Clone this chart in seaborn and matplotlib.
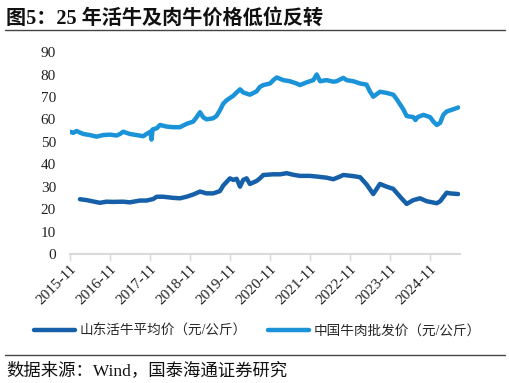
import numpy as np
import pandas as pd
import matplotlib
matplotlib.use("Agg")
import matplotlib.pyplot as plt
import matplotlib.dates as mdates
import seaborn as sns

# 中国牛肉批发价（元/公斤）
beef_dates = ["2015-11-01", "2015-12-01", "2016-01-01", "2016-03-01", "2016-05-01", "2016-07-01",
              "2016-09-01", "2016-11-01", "2017-01-01", "2017-02-01", "2017-03-01", "2017-05-01",
              "2017-07-01", "2017-09-01", "2017-10-01", "2017-11-05", "2017-11-15", "2017-11-25",
              "2018-01-01", "2018-02-01", "2018-04-01", "2018-06-01", "2018-08-01", "2018-10-01",
              "2018-12-01", "2019-01-01", "2019-02-01", "2019-03-01", "2019-04-01", "2019-06-01",
              "2019-07-01", "2019-08-01", "2019-09-01", "2019-10-01", "2019-12-01", "2020-01-01",
              "2020-02-01", "2020-03-01", "2020-05-01", "2020-07-01", "2020-08-01", "2020-09-01",
              "2020-11-01", "2020-12-01", "2021-01-01", "2021-03-01", "2021-05-01", "2021-07-01",
              "2021-08-01", "2021-10-01", "2021-12-01", "2022-01-01", "2022-02-01", "2022-04-01",
              "2022-06-01", "2022-07-01", "2022-09-01", "2022-10-01", "2022-12-01", "2023-02-01",
              "2023-04-01", "2023-05-01", "2023-06-01", "2023-08-01", "2023-10-01", "2023-12-01",
              "2024-01-01", "2024-03-01", "2024-04-01", "2024-06-01", "2024-06-20", "2024-07-10",
              "2024-09-01", "2024-11-01", "2024-12-01", "2025-01-01", "2025-02-01", "2025-03-01",
              "2025-04-01", "2025-05-01", "2025-06-01", "2025-07-15"]
beef_values = [54.5, 54.0, 54.8, 53.5, 53.0, 52.3,
               53.0, 53.2, 52.8, 53.5, 54.5, 53.5,
               53.0, 52.5, 53.5, 54.5, 51.0, 55.5,
               56.0, 57.5, 56.8, 56.5, 56.5, 58.0,
               59.0, 61.0, 63.2, 61.0, 60.0, 60.5,
               61.5, 64.0, 67.0, 68.5, 70.5, 72.0,
               73.4, 72.0, 71.0, 72.5, 74.5, 75.3,
               76.0, 77.5, 78.7, 77.5, 77.0, 76.0,
               75.3, 76.5, 77.5, 80.0, 77.0, 77.5,
               76.8, 77.0, 78.5, 77.5, 77.0, 76.0,
               75.5, 72.5, 70.1, 72.3, 71.8, 71.0,
               69.0, 64.5, 61.5, 61.0, 59.7, 61.0,
               62.0, 61.0, 59.0, 57.5, 58.5, 62.0,
               63.5, 64.0, 64.5, 65.3]

# 山东活牛平均价（元/公斤）
cattle_dates = ["2016-02-01", "2016-04-01", "2016-06-01", "2016-08-01", "2016-10-01", "2016-12-01",
                "2017-03-01", "2017-05-01", "2017-08-01", "2017-10-01", "2017-12-01", "2018-01-01",
                "2018-03-01", "2018-06-01", "2018-08-01", "2018-10-01", "2018-12-01", "2019-02-01",
                "2019-04-01", "2019-06-01", "2019-08-01", "2019-09-01", "2019-11-01", "2019-12-01",
                "2020-01-01", "2020-02-01", "2020-03-01", "2020-04-01", "2020-05-01", "2020-07-01",
                "2020-08-01", "2020-09-01", "2020-12-01", "2021-02-01", "2021-04-01", "2021-06-01",
                "2021-08-01", "2021-11-01", "2022-01-01", "2022-04-01", "2022-06-01", "2022-08-01",
                "2022-09-01", "2022-12-01", "2023-02-01", "2023-04-01", "2023-06-01", "2023-08-01",
                "2023-10-01", "2023-12-01", "2024-02-01", "2024-04-01", "2024-06-01", "2024-08-01",
                "2024-10-01", "2025-01-01", "2025-02-01", "2025-04-01", "2025-05-01", "2025-07-15"]
cattle_values = [24.4, 24.0, 23.4, 22.8, 23.3, 23.2,
                 23.3, 23.0, 23.8, 23.8, 24.5, 25.5,
                 25.5, 25.0, 24.8, 25.5, 26.5, 27.8,
                 27.0, 27.0, 28.0, 30.5, 33.7, 33.0,
                 33.5, 30.0, 33.0, 33.7, 31.2, 32.5,
                 33.7, 35.2, 35.5, 35.5, 36.0, 35.3,
                 34.8, 34.8, 34.5, 34.0, 33.3, 34.5,
                 35.2, 34.7, 34.2, 31.0, 26.7, 31.2,
                 30.0, 29.0, 25.5, 22.3, 24.0, 24.8,
                 23.5, 22.6, 23.5, 27.3, 27.0, 26.7]

cattle_label = "山东活牛平均价（元/公斤）"
beef_label = "中国牛肉批发价（元/公斤）"
tick_years = list(range(2015, 2025))
y_ticks = list(range(0, 100, 10))

cjk = ["Liberation Serif", "Noto Sans CJK SC"]

sns.set_theme(style="white")
plt.rcParams["font.family"] = cjk

df_cattle = pd.DataFrame({"date": pd.to_datetime(cattle_dates), "value": cattle_values})
df_beef = pd.DataFrame({"date": pd.to_datetime(beef_dates), "value": beef_values})

fig = plt.figure(figsize=(5.1, 3.83), dpi=100)
ax = fig.add_axes([0.137, 0.337, 0.765, 0.527])

sns.lineplot(data=df_cattle, x="date", y="value", ax=ax, color="#1560A8",
             linewidth=3.2, label=cattle_label)
sns.lineplot(data=df_beef, x="date", y="value", ax=ax, color="#1A93D8",
             linewidth=3.2, label=beef_label)

ax.set_ylim(0, 90)
ax.set_yticks(y_ticks)
ax.set_xlim(pd.Timestamp("2015-11-01"), pd.Timestamp("2025-08-01"))
ax.set_xticks([pd.Timestamp(f"{y}-11-01") for y in tick_years])
ax.xaxis.set_major_formatter(mdates.DateFormatter("%Y-%m"))
ax.set_xlabel("")
ax.set_ylabel("")

for s in ["top", "right", "left"]:
    ax.spines[s].set_visible(False)
ax.spines["bottom"].set_color("#D9D9D9")
ax.spines["bottom"].set_linewidth(1.5)

ax.tick_params(axis="y", length=0, labelsize=11, pad=10, labelcolor="#222222")
ax.tick_params(axis="x", bottom=True, length=5, width=1, color="#D9D9D9",
               labelsize=11, labelcolor="#222222", pad=1)
for lab in ax.get_xticklabels():
    lab.set_rotation(45)
    lab.set_ha("right")
    lab.set_rotation_mode("anchor")

ax.get_legend().remove()
handles, labels = ax.get_legend_handles_labels()
fig.legend(handles, labels, loc="center", bbox_to_anchor=(0.505, 0.135), ncol=2,
           frameon=False, fontsize=9.8, handlelength=3.0, handletextpad=0.3,
           columnspacing=1.6)

fig.text(0.012, 0.952, "图5：25 年活牛及肉牛价格低位反转", fontsize=14.5,
         fontweight="bold", ha="left", va="center", color="#111111")
fig.add_artist(plt.Line2D([0.01, 0.99], [0.922, 0.922], color="#444444", linewidth=1))
fig.add_artist(plt.Line2D([0.01, 0.99], [0.072, 0.072], color="#444444", linewidth=1))
fig.text(0.012, 0.033, "数据来源：Wind，国泰海通证券研究", fontsize=12.5,
         ha="left", va="center", color="#111111")

fig.savefig("out.png", dpi=100)
